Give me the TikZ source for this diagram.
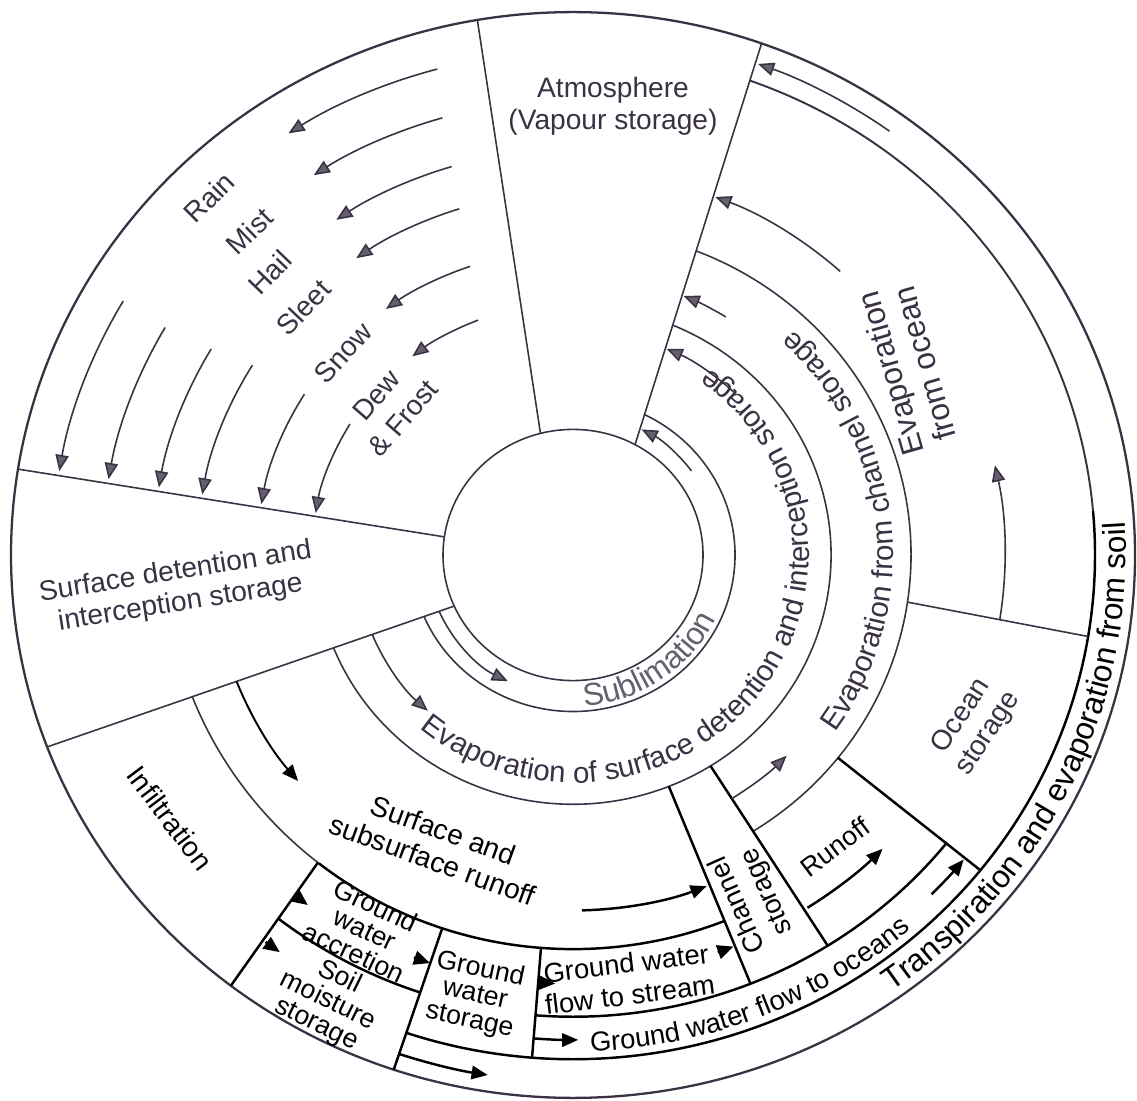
\documentclass[tikz,border=0pt]{standalone}
\usepackage{fontspec}
\setmainfont{Liberation Sans}
\usetikzlibrary{arrows.meta,decorations.text}
\definecolor{ink}{HTML}{3A3244}
\definecolor{paleink}{HTML}{66606E}
\newcommand\curvetext{\fontsize{8.4}{9}\selectfont\color{ink}}
\newcommand\subltext{\fontsize{9}{9}\selectfont\color{paleink}}
\newcommand\oceantext{\fontsize{7.8}{9}\selectfont\color{black}}
\newcommand\soiltext{\fontsize{9}{9}\selectfont\color{black}}
\begin{document}
\begin{tikzpicture}[x=0.01cm,y=0.01cm,
    ring/.style={ink,line width=0.45pt},
    wall/.style={black,line width=0.7pt},
    upflow/.style={ink,line width=0.45pt,-{Triangle[length=4.6pt,width=3.8pt,fill=paleink]}},
    blackflow/.style={black,line width=0.7pt,-{Triangle[length=4.6pt,width=3.8pt]}},
    headonly/.style={black,line width=0.7pt,-{Triangle[length=4.6pt,width=4pt]}},
    txt/.style={ink,font=\fontsize{8}{9}\selectfont,align=center,inner sep=0pt},
    btxt/.style={black,font=\fontsize{7.6}{7.4}\selectfont,align=center,inner sep=0pt}]
    \useasboundingbox (0,0) rectangle (1137,1100);
    \fill[white] (0,0) rectangle (1137,1100);
    \begin{scope}[shift={(573,545)},yscale=0.966]
        \draw[ring] (0,0) circle[radius=130];
        \draw[ring,line width=0.65pt] (0,0) circle[radius=562];
        \draw[ring] (203.3:162) arc[start angle=203.3,end angle=423.7,radius=162];
        \draw[ring] (202:258) arc[start angle=202,end angle=427.2,radius=258];
        \draw[ring] (-57.8:338) arc[start angle=-57.8,end angle=68.6,radius=338];
        \draw[ring] (201:408) arc[start angle=201,end angle=231.5,radius=408];
        \draw[wall] (231.5:408) arc[start angle=231.5,end angle=291.8,radius=408];
        \draw[wall] (232:478) arc[start angle=232,end angle=251.3,radius=478];
        \draw[wall] (265.5:478) arc[start angle=265.5,end angle=321.5,radius=478];
        \draw[wall] (251.3:522) arc[start angle=251.3,end angle=365,radius=522];
        \draw[ring,line width=0.55pt] (5:522) arc[start angle=5,end angle=70.2,radius=522];
        \draw[ring] (104.5:130) -- (99.8:562);
        \draw[ring] (61.5:130) -- (70.4:562);
        \draw[ring] (171.7:130) -- (170.9:562);
        \draw[ring] (204:130) -- (200.7:562);
        \draw[wall] (231.3:408) -- (232.5:562);
        \draw[wall] (251.3:408) -- (251.4:562);
        \draw[wall] (265.5:408) -- (265.5:522);
        \draw[wall] (-68.2:258) -- (-68.2:478);
        \draw[wall] (-57.8:258) -- (-57.8:478);
        \draw[wall] (-38.4:338) -- (-38.7:522);
        \draw[ring] (-8.3:338) -- (-9.3:522);
        % precipitation
        \draw[upflow] (105.1:521) arc[start angle=105.1,end angle=123.1,radius=521];
        \draw[upflow] (149.7:521) arc[start angle=149.7,end angle=170.4,radius=521];
        \draw[upflow] (106.1:471) arc[start angle=106.1,end angle=123.4,radius=471];
        \draw[upflow] (150:471) arc[start angle=150,end angle=170.4,radius=471];
        \draw[upflow] (106.8:420) arc[start angle=106.8,end angle=124.3,radius=420];
        \draw[upflow] (149.5:420) arc[start angle=149.5,end angle=170.4,radius=420];
        \draw[upflow] (107.6:376) arc[start angle=107.6,end angle=125.2,radius=376];
        \draw[upflow] (148.5:376) arc[start angle=148.5,end angle=170.4,radius=376];
        \draw[upflow] (109:316) arc[start angle=109,end angle=126.3,radius=316];
        \draw[upflow] (148.2:316) arc[start angle=148.2,end angle=170.4,radius=316];
        \draw[upflow] (111.3:261) arc[start angle=111.3,end angle=128,radius=261];
        \draw[upflow] (148.7:261) arc[start angle=148.7,end angle=170.4,radius=261];
        \node[txt,rotate=45] (rain) at (134.5:519) {Rain};
        \node[txt,rotate=44] (mist) at (134:466) {Mist};
        \node[txt,rotate=46] (hail) at (136:421) {Hail};
        \node[txt,rotate=46.5] (sleet) at (136.5:372) {Sleet};
        \node[txt,rotate=47.7] (snow) at (137.7:311) {Snow};
        \node[txt,rotate=49,font=\fontsize{8}{10}\selectfont] (dew) at (140:239) {Dew\\\& Frost};
        % back to the atmosphere
        \draw[upflow] (36.3:147) arc[start angle=36.3,end angle=62.2,radius=147];
        \draw[upflow] (46.3:233) arc[start angle=46.3,end angle=66.3,radius=233];
        \draw[upflow] (58.2:290) arc[start angle=58.2,end angle=67.6,radius=290];
        \draw[upflow] (47.7:397) arc[start angle=47.7,end angle=69,radius=397];
        \draw[upflow] (54.2:541) arc[start angle=54.2,end angle=70,radius=541];
        \draw[upflow] (-8.8:432) arc[start angle=-8.8,end angle=12.4,radius=432];
        \draw[upflow] (-57.8:298) arc[start angle=-57.8,end angle=-44.2,radius=298];
        % out of surface detention
        \draw[upflow] (203.5:146) arc[start angle=203.5,end angle=243.5,radius=146];
        \draw[upflow] (202.4:217) arc[start angle=202.4,end angle=228,radius=217];
        \draw[blackflow,line width=0.55pt] (201.3:361) arc[start angle=201.3,end angle=220.4,radius=361];
        % ground and sea
        \draw[blackflow] (271.4:368) arc[start angle=271.4,end angle=291.3,radius=368];
        \draw[blackflow] (-57.3:434) arc[start angle=-57.3,end angle=-44.5,radius=434];
        \draw[blackflow] (-44.4:502) arc[start angle=-44.4,end angle=-38.9,radius=502];
        \draw[blackflow] (251.5:545) arc[start angle=251.5,end angle=261,radius=545];
        \draw[blackflow] (265.5:502) arc[start angle=265.5,end angle=270.6,radius=502];
        \draw[headonly] (231.6:449) -- (233.8:449);
        \draw[headonly] (232.5:505) -- (234.5:505);
        \draw[headonly] (249.1:446) -- (251.3:446);
        \draw[headonly] (265.5:444) -- (267.7:444);
        \draw[headonly] (289.4:436) -- (291.6:436);
        % curved labels
        \path[decorate,decoration={text along path,text align=center,text={|\subltext|Sublimation}}]
            (255:157) arc[start angle=255,end angle=355,radius=157];
        \path[decorate,decoration={text along path,text align=center,text={|\curvetext|Evaporation of surface detention and interception storage}}]
            (202:236) arc[start angle=202,end angle=442,radius=236];
        \path[decorate,decoration={text along path,text align=center,text={|\curvetext|Evaporation from channel storage}}]
            (-60:320) arc[start angle=-60,end angle=71.4,radius=320];
        \path[decorate,decoration={text along path,text align=center,text={|\oceantext|Ground water flow to oceans}}]
            (255:514) arc[start angle=255,end angle=328.4,radius=514];
        \path[decorate,decoration={text along path,text align=center,text={|\soiltext|Transpiration and evaporation from soil}}]
            (-80:553) arc[start angle=-80,end angle=29.4,radius=553];
        \node[txt,rotate=106,font=\fontsize{9}{10}\selectfont] (evocean) at (30:386) {Evaporation\\from ocean};
    \end{scope}
    \node[txt] (atmos) at (613,994) {Atmosphere\\(Vapour storage)};
    \node[txt,rotate=9] (detention) at (178,512) {Surface detention and\\interception storage};
    \node[txt,black,rotate=-53] (infil) at (170,282) {Infiltration};
    \node[txt,black,rotate=-20] (runoffs) at (438,255) {Surface and\\subsurface runoff};
    \node[btxt,rotate=-25] (accretion) at (365,171) {Ground\\water\\accretion};
    \node[btxt,rotate=-26] (soil) at (328,99) {Soil\\moisture\\storage};
    \node[btxt,rotate=-12] (gwstore) at (475,105) {Ground\\water\\storage};
    \node[btxt,rotate=7,font=\fontsize{7.8}{9}\selectfont] (gwstream) at (628,121) {Ground water\\flow to stream};
    \node[btxt,rotate=114,font=\fontsize{7.8}{9}\selectfont] (channel) at (753,202) {Channel\\storage};
    \node[btxt,rotate=37] (runoff) at (835,253) {Runoff};
    \node[txt,rotate=57] (ocean) at (975,375) {Ocean\\storage};
\end{tikzpicture}
\end{document}
